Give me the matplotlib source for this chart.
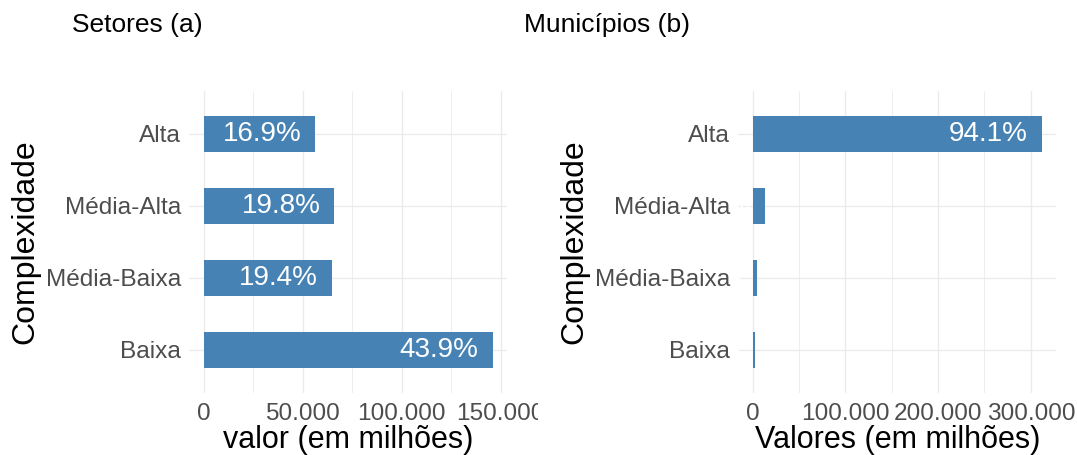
import numpy as np
import matplotlib.pyplot as plt
from matplotlib.transforms import Bbox, TransformedBbox

plt.rcParams['font.family'] = ['Liberation Sans', 'DejaVu Sans']

# Valores por nível de complexidade (em milhões), de baixo para cima
categorias = ["Baixa", "Média-Baixa", "Média-Alta", "Alta"]
setores = [145950, 64560, 65870, 56270]
municipios = [2250, 4300, 13000, 311800]

ticks_setores = [0, 50000, 100000, 150000]
ticks_municipios = [0, 100000, 200000, 300000]

COR = "#4682B4"
GRID = "#EBEBEB"
TXT = "#4D4D4D"


def fmt(v):
    return "{:,.0f}".format(v).replace(",", ".")


def painel(ax, valores, ticks, xlabel):
    y = np.arange(len(categorias))
    vmax = max(valores)
    total = sum(valores)
    ax.barh(y, valores, height=0.5, color=COR, zorder=2)
    for yi, v in zip(y, valores):
        ax.annotate("{:.1f}%".format(100 * v / total), xy=(v, yi), xytext=(-10, 0),
                    textcoords="offset points", ha="right", va="center",
                    color="white", fontsize=20, clip_on=True, zorder=3)
    ax.set_xlim(-0.05 * vmax, 1.05 * vmax)
    ax.set_ylim(-0.6, len(categorias) - 0.4)
    ax.set_yticks(y)
    ax.set_yticklabels(categorias)
    ax.set_xticks(ticks)
    ax.set_xticklabels([fmt(t) for t in ticks])
    minor = [(a + b) / 2 for a, b in zip(ticks[:-1], ticks[1:])]
    minor.append(ticks[-1] + (ticks[1] - ticks[0]) / 2)
    ax.set_xticks([m for m in minor if m < 1.05 * vmax], minor=True)
    ax.grid(True, which="major", color=GRID, linewidth=1.0, zorder=0)
    ax.grid(True, which="minor", axis="x", color=GRID, linewidth=0.6, zorder=0)
    ax.set_axisbelow(True)
    for s in ax.spines.values():
        s.set_visible(False)
    ax.tick_params(which="both", length=0, labelsize=17.6, colors=TXT)
    ax.tick_params(axis="x", pad=7)
    ax.tick_params(axis="y", pad=6)
    ax.set_xlabel(xlabel, fontsize=22, labelpad=0)
    ax.set_ylabel("Complexidade", fontsize=23, va="center")


fig = plt.figure(figsize=(10.77, 4.55), dpi=100)
ax1 = fig.add_axes([0.1759, 0.1363, 0.2949, 0.6646])
ax2 = fig.add_axes([0.6854, 0.1363, 0.2953, 0.6646])

painel(ax1, setores, ticks_setores, "valor (em milhões)")
painel(ax2, municipios, ticks_municipios, "Valores (em milhões)")

ax1.yaxis.set_label_coords(-0.5176, 0.5)
ax2.yaxis.set_label_coords(-0.5164, 0.5)
ax1.yaxis.label.set_va("center")
ax2.yaxis.label.set_va("center")

# rótulos do eixo x do painel (a) cortados na metade da figura
corte = TransformedBbox(Bbox([[0, 0], [0.4995, 1]]), fig.transFigure)
for lab in ax1.get_xticklabels():
    lab.set_clip_box(corte)
    lab.set_clip_on(True)

fig.text(0.067, 0.945, "Setores (a)", fontsize=19, va="center", ha="left")
fig.text(0.487, 0.945, "Municípios (b)", fontsize=19, va="center", ha="left")

fig.savefig("out.png", dpi=100, facecolor="white")
